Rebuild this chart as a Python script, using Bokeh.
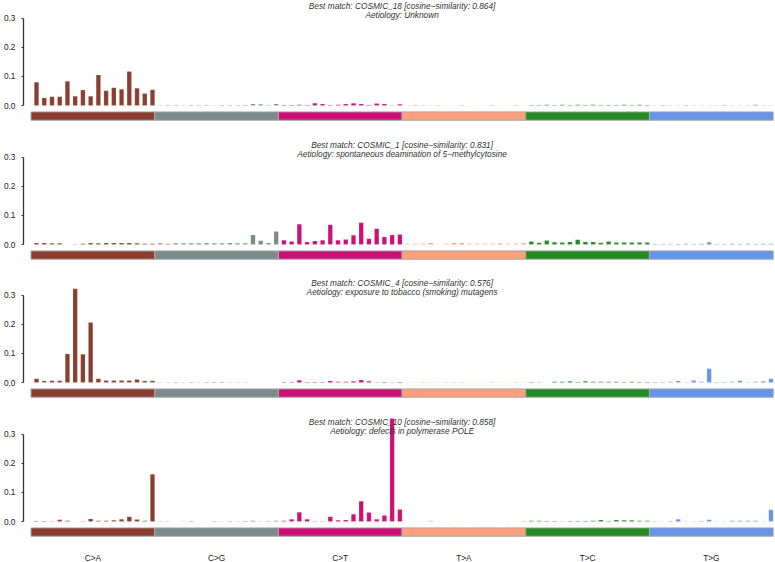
import numpy as np
from bokeh.plotting import figure
from bokeh.models import (Range1d, FixedTicker, LinearAxis, Label,
                          ColumnDataSource, PrintfTickFormatter)
from bokeh.layouts import column
from bokeh.embed import file_html
from bokeh.resources import INLINE

# ---------------- data ----------------
mut_types = ["C>A", "C>G", "C>T", "T>A", "T>C", "T>G"]
type_colors = ["#8B3E2F", "#7A8B8B", "#CD1076", "#FFA07A", "#228B22", "#6495ED"]
y_ticks = [0.0, 0.1, 0.2, 0.3]

titles = [
    ("Best match: COSMIC_18 [cosine\u2212similarity: 0.864]", "Aetiology: Unknown"),
    ("Best match: COSMIC_1 [cosine\u2212similarity: 0.831]",
     "Aetiology: spontaneous deamination of 5\u2212methylcytosine"),
    ("Best match: COSMIC_4 [cosine\u2212similarity: 0.576]",
     "Aetiology: exposure to tobacco (smoking) mutagens"),
    ("Best match: COSMIC_10 [cosine\u2212similarity: 0.858]",
     "Aetiology: defects in polymerase POLE"),
]

# panel 1
CA1 = [0.080, 0.026, 0.030, 0.030, 0.083, 0.032, 0.053, 0.032, 0.105, 0.051, 0.061, 0.056, 0.117, 0.059, 0.041, 0.054]
CG1 = [0.001, 0.002, 0.002, 0.001, 0.002, 0.002, 0.002, 0.001, 0.002, 0.002, 0.002, 0.002, 0.005, 0.004, 0.002, 0.005]
CT1 = [0.002, 0.002, 0.003, 0.002, 0.008, 0.005, 0.002, 0.003, 0.005, 0.008, 0.005, 0.002, 0.007, 0.005, 0.001, 0.004]
TA1 = [0.001, 0.002, 0.002, 0.001, 0.002, 0.001, 0.001, 0.002, 0.001, 0.001, 0.001, 0.002, 0.001, 0.001, 0.002, 0.001]
TC1 = [0.002, 0.002, 0.003, 0.002, 0.003, 0.002, 0.003, 0.002, 0.003, 0.002, 0.002, 0.002, 0.003, 0.002, 0.003, 0.002]
TG1 = [0.001, 0.002, 0.001, 0.001, 0.002, 0.001, 0.001, 0.001, 0.001, 0.002, 0.001, 0.001, 0.001, 0.003, 0.001, 0.001]

# panel 2
CA2 = [0.005, 0.005, 0.004, 0.004, 0.000, 0.001, 0.003, 0.005, 0.004, 0.005, 0.005, 0.005, 0.005, 0.004, 0.003, 0.003]
CG2 = [0.004, 0.003, 0.004, 0.004, 0.004, 0.004, 0.005, 0.004, 0.004, 0.005, 0.004, 0.004, 0.033, 0.013, 0.005, 0.045]
CT2 = [0.015, 0.010, 0.070, 0.009, 0.012, 0.015, 0.068, 0.015, 0.017, 0.032, 0.075, 0.020, 0.054, 0.026, 0.033, 0.034]
TA2 = [0.003, 0.003, 0.003, 0.005, 0.001, 0.003, 0.005, 0.005, 0.003, 0.003, 0.003, 0.003, 0.004, 0.003, 0.003, 0.005]
TC2 = [0.010, 0.006, 0.014, 0.008, 0.007, 0.009, 0.016, 0.009, 0.009, 0.006, 0.010, 0.007, 0.007, 0.007, 0.007, 0.007]
TG2 = [0.002, 0.002, 0.002, 0.002, 0.003, 0.002, 0.003, 0.008, 0.002, 0.002, 0.003, 0.002, 0.003, 0.002, 0.003, 0.003]

# panel 3
CA3 = [0.013, 0.005, 0.006, 0.006, 0.098, 0.322, 0.097, 0.206, 0.013, 0.007, 0.007, 0.007, 0.007, 0.010, 0.005, 0.006]
CG3 = [0.001, 0.001, 0.002, 0.001, 0.002, 0.001, 0.002, 0.002, 0.002, 0.001, 0.001, 0.001, 0.000, 0.000, 0.000, 0.000]
CT3 = [0.002, 0.002, 0.008, 0.002, 0.002, 0.002, 0.005, 0.003, 0.003, 0.004, 0.009, 0.004, 0.001, 0.002, 0.001, 0.002]
TA3 = [0.001, 0.001, 0.002, 0.001, 0.001, 0.002, 0.002, 0.002, 0.001, 0.001, 0.001, 0.002, 0.001, 0.001, 0.002, 0.001]
TC3 = [0.002, 0.001, 0.000, 0.003, 0.003, 0.004, 0.002, 0.004, 0.003, 0.003, 0.003, 0.003, 0.002, 0.003, 0.002, 0.002]
TG3 = [0.002, 0.002, 0.003, 0.005, 0.001, 0.007, 0.003, 0.047, 0.002, 0.002, 0.003, 0.006, 0.001, 0.003, 0.004, 0.013]

# panel 4
CA4 = [0.002, 0.002, 0.001, 0.006, 0.003, 0.000, 0.001, 0.009, 0.003, 0.003, 0.004, 0.008, 0.016, 0.007, 0.003, 0.162]
CG4 = [0.001, 0.001, 0.000, 0.001, 0.002, 0.000, 0.000, 0.002, 0.001, 0.002, 0.001, 0.002, 0.003, 0.001, 0.002, 0.003]
CT4 = [0.003, 0.008, 0.032, 0.008, 0.001, 0.001, 0.016, 0.004, 0.005, 0.025, 0.070, 0.031, 0.008, 0.021, 0.354, 0.041]
TA4 = [0.000, 0.001, 0.001, 0.003, 0.001, 0.000, 0.001, 0.001, 0.000, 0.001, 0.001, 0.001, 0.000, 0.001, 0.001, 0.002]
TC4 = [0.003, 0.003, 0.002, 0.002, 0.001, 0.002, 0.002, 0.002, 0.003, 0.005, 0.002, 0.005, 0.004, 0.004, 0.003, 0.003]
TG4 = [0.001, 0.001, 0.002, 0.008, 0.001, 0.001, 0.002, 0.006, 0.001, 0.001, 0.003, 0.003, 0.003, 0.003, 0.001, 0.040]

panels = [
    [CA1, CG1, CT1, TA1, TC1, TG1],
    [CA2, CG2, CT2, TA2, TC2, TG2],
    [CA3, CG3, CT3, TA3, TC3, TG3],
    [CA4, CG4, CT4, TA4, TC4, TG4],
]

FONT = "Liberation Sans"
SPACE = 0.75  # barplot spacing (fraction of bar width)
BOTTOM_BORDERS = [14, 13, 14, 21]


def make_panel(groups, t1, t2, bottom_border, last=False):
    p = figure(frame_width=753, frame_height=125,
               x_range=Range1d(-0.97, 96.43), y_range=Range1d(-0.0687, 0.3608),
               output_backend="svg", toolbar_location=None,
               x_axis_location=None, y_axis_location="left",
               min_border_left=22, min_border_right=0, min_border_top=0,
               min_border_bottom=bottom_border)
    p.outline_line_color = None
    p.grid.visible = False
    p.background_fill_color = "white"
    p.border_fill_color = "white"

    vals, xs, cols = [], [], []
    n_per = len(groups[0])
    bw = 1.0 / (1.0 + SPACE)
    for g, arr in enumerate(groups):
        for k, v in enumerate(arr):
            idx = g * n_per + k
            vals.append(v)
            xs.append(idx + SPACE * bw + bw / 2)
            cols.append(type_colors[g])
    src = ColumnDataSource(dict(x=xs, top=vals, color=cols))
    p.vbar(x="x", top="top", bottom=0, width=bw, fill_color="color",
           line_color="white", line_width=0.3, line_alpha=0.5, source=src)

    # category strip
    lefts = [g * n_per for g in range(len(groups))]
    rights = [(g + 1) * n_per for g in range(len(groups))]
    p.quad(left=lefts, right=rights, top=-0.022, bottom=-0.0505,
           fill_color=type_colors, line_color="#A8A8A8", line_width=1)

    # titles
    cx = len(groups) * n_per / 2
    for txt, yy in ((t1, 0.343), (t2, 0.310)):
        p.add_layout(Label(x=cx, y=yy, text=txt, text_align="center",
                           text_baseline="middle", text_font=FONT,
                           text_font_style="italic", text_font_size="8.3px",
                           text_color="#333333"))

    ax = p.yaxis[0]
    ax.ticker = FixedTicker(ticks=y_ticks)
    ax.formatter = PrintfTickFormatter(format="%.1f")
    ax.bounds = (0, 0.3)
    ax.major_tick_out = 2
    ax.major_tick_in = 0
    ax.minor_tick_line_color = None
    ax.major_label_standoff = 6
    ax.major_label_text_font = FONT
    ax.major_label_text_font_size = "8.3px"
    ax.major_label_text_color = "#222222"
    ax.axis_line_color = "#333333"
    ax.axis_line_width = 1.3
    ax.major_tick_line_color = "#333333"

    if last:
        centers = [g * n_per + n_per / 2 for g in range(len(groups))]
        xa = LinearAxis(ticker=FixedTicker(ticks=centers),
                        major_label_overrides={c: m for c, m in zip(centers, mut_types)})
        xa.axis_line_color = None
        xa.major_tick_line_color = None
        xa.minor_tick_line_color = None
        xa.major_tick_out = 0
        xa.major_label_standoff = 11
        xa.major_label_text_font = FONT
        xa.major_label_text_font_size = "8.3px"
        xa.major_label_text_color = "#222222"
        p.add_layout(xa, "below")
    return p


figs = []
for i, (groups, (t1, t2)) in enumerate(zip(panels, titles)):
    figs.append(make_panel(groups, t1, t2, BOTTOM_BORDERS[i],
                           last=(i == len(panels) - 1)))

layout = column(*figs, spacing=0)
open("out.html", "w").write(file_html(layout, INLINE))
